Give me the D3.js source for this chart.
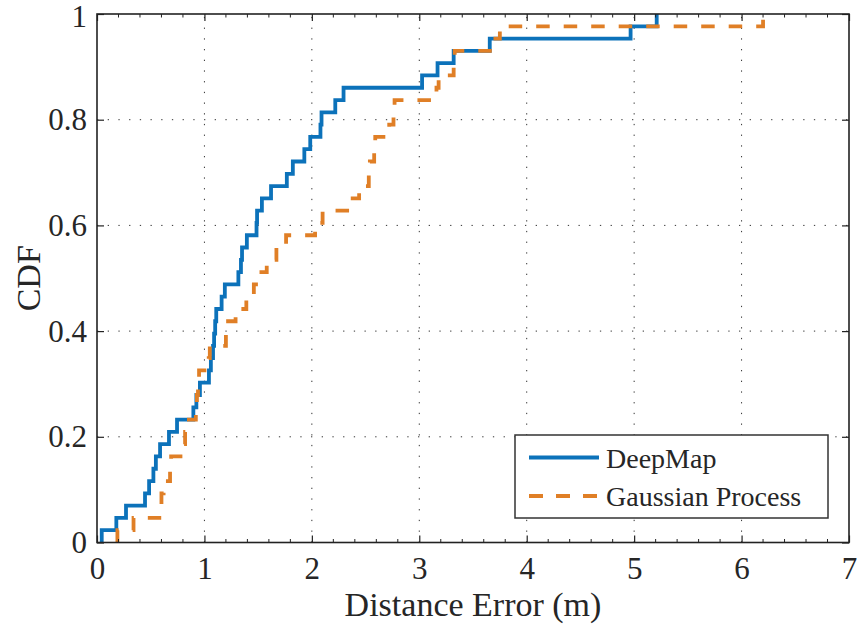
<!DOCTYPE html>
<html>
<head>
<meta charset="utf-8">
<script src="https://cdn.jsdelivr.net/npm/d3@7"></script>
<style>
  html, body { margin: 0; padding: 0; background: #fff; }
  svg { display: block; }
  text { font-family: "Liberation Serif", "Times New Roman", serif; fill: #262626; }
</style>
</head>
<body>
<svg id="chart" width="860" height="628"></svg>
<script>
// Sorted distance errors (m) for each method; the empirical CDF steps at each sample.
const deepMapErrors = [
  0.044, 0.18, 0.27, 0.447, 0.485, 0.525, 0.548, 0.587, 0.67, 0.745,
  0.897, 0.925, 0.958, 1.042, 1.06, 1.08, 1.09, 1.10, 1.11, 1.16,
  1.19, 1.316, 1.34, 1.35, 1.395, 1.485, 1.49, 1.535, 1.62, 1.767,
  1.823, 1.93, 1.985, 2.08, 2.09, 2.218, 2.295, 3.026, 3.17, 3.32,
  3.656, 4.967, 5.21
];
const gaussianProcessErrors = [
  0.19, 0.34, 0.58, 0.60, 0.62, 0.68, 0.69, 0.81, 0.82, 0.83,
  0.92, 0.93, 0.94, 0.95, 1.04, 1.05, 1.20, 1.22, 1.29, 1.39,
  1.46, 1.48, 1.58, 1.67, 1.76, 2.03, 2.10, 2.36, 2.44, 2.53,
  2.54, 2.58, 2.59, 2.72, 2.76, 2.77, 3.16, 3.18, 3.32, 3.33,
  3.69, 3.75, 6.20
];
const seriesNames = ["DeepMap", "Gaussian Process"];
const seriesColors = ["#0C72BA", "#E07F26"];
const xTicks = [0, 1, 2, 3, 4, 5, 6, 7];
const yTicks = [0, 0.2, 0.4, 0.6, 0.8, 1];
const xLabel = "Distance Error (m)";
const yLabel = "CDF";

const svg = d3.select("#chart");
const plotL = 97, plotR = 849, plotT = 14, plotB = 542.5;

const x = d3.scaleLinear().domain([0, 7]).range([plotL, plotR]);
const y = d3.scaleLinear().domain([0, 1]).range([plotB, plotT]);

// Empirical CDF points: start at (x1, 0), then (xi, i/n)
function ecdf(values) {
  const s = values.slice().sort(d3.ascending);
  const n = s.length;
  const pts = [[s[0], 0]];
  s.forEach((v, i) => pts.push([v, (i + 1) / n]));
  return pts;
}

// Grid (dotted)
const grid = svg.append("g").attr("stroke", "#333").attr("stroke-width", 1)
  .attr("stroke-dasharray", "1.3 9.4").attr("fill", "none");
xTicks.slice(1, -1).forEach(t => {
  grid.append("line").attr("x1", x(t)).attr("x2", x(t)).attr("y1", plotB).attr("y2", plotT);
});
yTicks.slice(1, -1).forEach(t => {
  grid.append("line").attr("x1", plotL).attr("x2", plotR).attr("y1", y(t)).attr("y2", y(t));
});

// CDF step lines
const line = d3.line().x(d => x(d[0])).y(d => y(d[1])).curve(d3.curveStepAfter);
const plot = svg.append("g");
plot.append("path").datum(ecdf(deepMapErrors))
  .attr("d", line).attr("fill", "none")
  .attr("stroke", seriesColors[0]).attr("stroke-width", 3.8)
  .attr("stroke-linejoin", "miter");
plot.append("path").datum(ecdf(gaussianProcessErrors))
  .attr("d", line).attr("fill", "none")
  .attr("stroke", seriesColors[1]).attr("stroke-width", 3.8)
  .attr("stroke-dasharray", "13.5 14").attr("stroke-linejoin", "miter");

// Axes with inward ticks on all four sides
const tickLen = 7, minorLen = 3.5;
const axBottom = d3.axisBottom(x).tickValues(xTicks).tickSize(-tickLen).tickPadding(14).tickFormat(d3.format("d"));
const axTop = d3.axisTop(x).tickValues(xTicks).tickSize(-tickLen).tickFormat("");
const axLeft = d3.axisLeft(y).tickValues(yTicks).tickSize(-tickLen).tickPadding(10).tickFormat(d => String(+d.toFixed(1)));
const axRight = d3.axisRight(y).tickValues(yTicks).tickSize(-tickLen).tickFormat("");

function styleAxis(g) {
  g.select(".domain").remove();
  g.selectAll(".tick line").attr("stroke", "#222").attr("stroke-width", 1.2);
  g.selectAll("text").attr("font-size", 31).attr("fill", "#262626")
    .attr("font-family", "'Liberation Serif', 'Times New Roman', serif");
}
svg.append("g").attr("transform", `translate(0,${plotB})`).call(axBottom).call(styleAxis);
svg.append("g").attr("transform", `translate(0,${plotT})`).call(axTop).call(styleAxis);
const gLeft = svg.append("g").attr("transform", `translate(${plotL},0)`).call(axLeft).call(styleAxis);
// keep the top "1" label fully inside the canvas
gLeft.selectAll(".tick").filter(d => d === 1).select("text").attr("dy", "0.40em");
svg.append("g").attr("transform", `translate(${plotR},0)`).call(axRight).call(styleAxis);

// Minor x ticks every 0.2
const minorX = d3.range(0, 7.001, 0.2).filter(v => Math.abs(v - Math.round(v)) > 1e-6);
const minor = svg.append("g").attr("stroke", "#222").attr("stroke-width", 1);
minorX.forEach(v => {
  minor.append("line").attr("x1", x(v)).attr("x2", x(v)).attr("y1", plotB).attr("y2", plotB - minorLen);
  minor.append("line").attr("x1", x(v)).attr("x2", x(v)).attr("y1", plotT).attr("y2", plotT + minorLen);
});

// Box
svg.append("rect").attr("x", plotL).attr("y", plotT)
  .attr("width", plotR - plotL).attr("height", plotB - plotT)
  .attr("fill", "none").attr("stroke", "#222").attr("stroke-width", 1.6);

// Axis labels
svg.append("text").attr("x", (plotL + plotR) / 2).attr("y", 616)
  .attr("text-anchor", "middle").attr("font-size", 34).attr("fill", "#555")
  .text(xLabel);
svg.append("text").attr("transform", `translate(40,${(plotT + plotB) / 2}) rotate(-90)`)
  .attr("text-anchor", "middle").attr("font-size", 34).attr("fill", "#555")
  .text(yLabel);

// Legend
const lg = svg.append("g");
lg.append("rect").attr("x", 515).attr("y", 435).attr("width", 313).attr("height", 83)
  .attr("fill", "#fff").attr("stroke", "#333").attr("stroke-width", 1.5);
const legendRows = [457.5, 496];
seriesNames.forEach((name, i) => {
  const ln = lg.append("line").attr("x1", 529).attr("x2", 599)
    .attr("y1", legendRows[i]).attr("y2", legendRows[i])
    .attr("stroke", seriesColors[i]).attr("stroke-width", 3.8);
  if (i === 1) ln.attr("stroke-dasharray", "14 13");
  lg.append("text").attr("x", 606).attr("y", legendRows[i] + 10)
    .attr("font-size", 28).attr("fill", "#222").text(name);
});
</script>
</body>
</html>
